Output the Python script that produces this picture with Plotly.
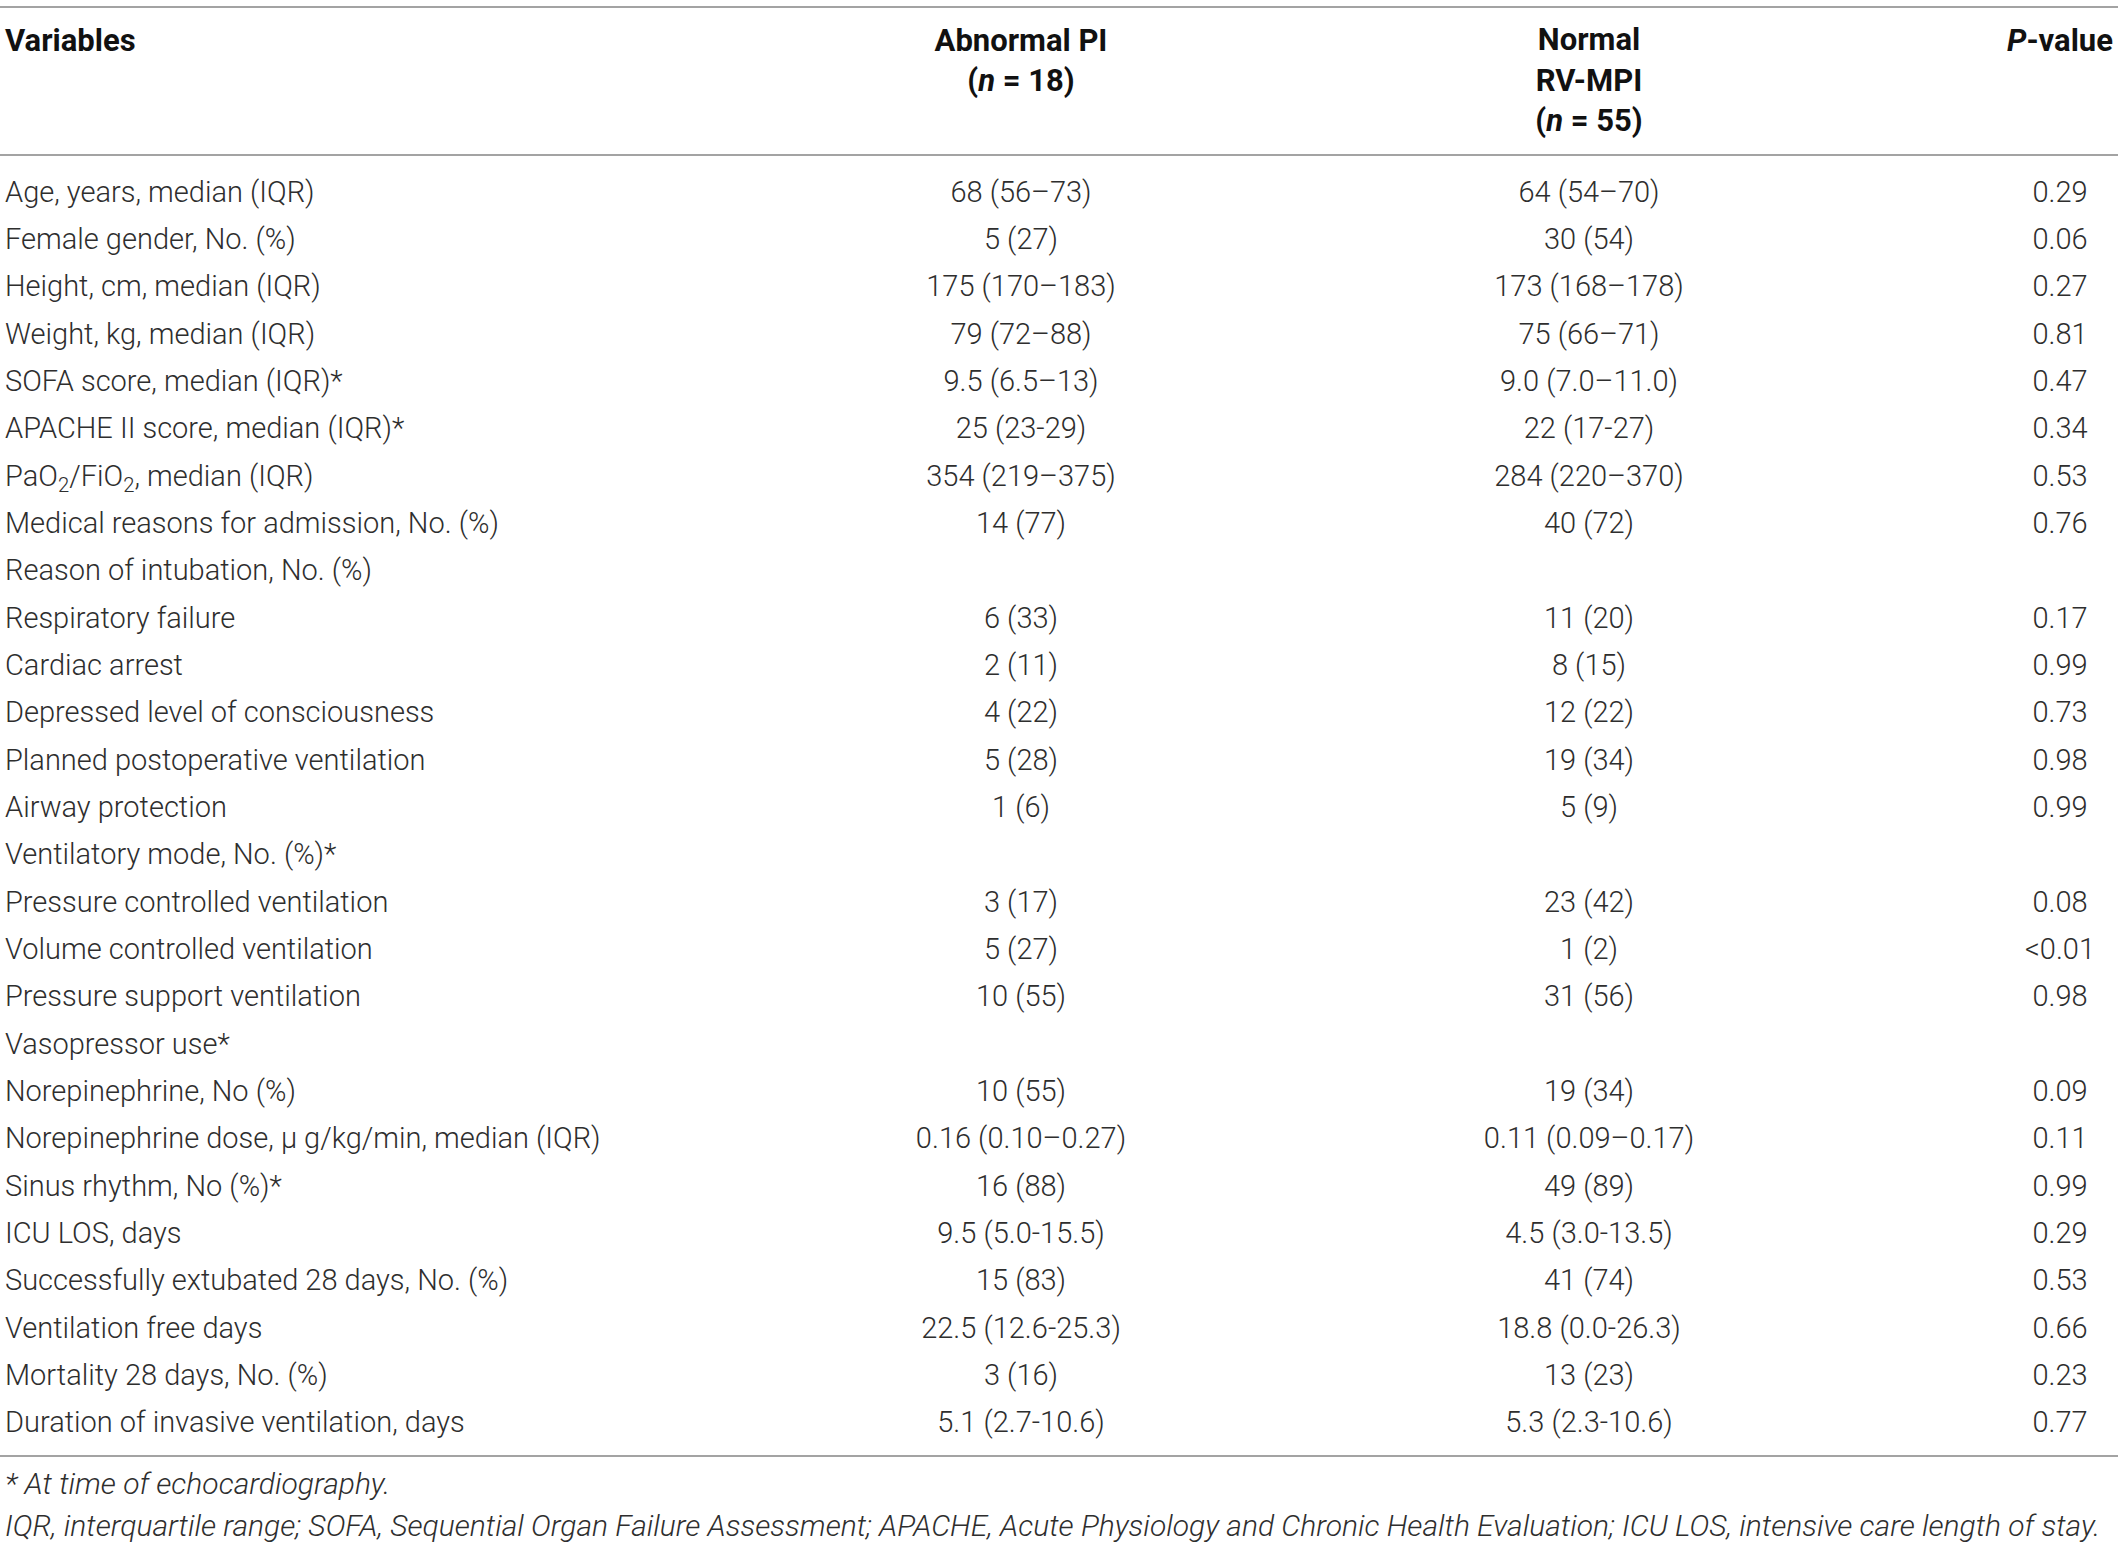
import plotly.graph_objects as go

# table contents
variables = [
    "Age, years, median (IQR)",
    "Female gender, No. (%)",
    "Height, cm, median (IQR)",
    "Weight, kg, median (IQR)",
    "SOFA score, median (IQR)*",
    "APACHE II score, median (IQR)*",
    "PaO<sub>2</sub>/FiO<sub>2</sub>, median (IQR)",
    "Medical reasons for admission, No. (%)",
    "Reason of intubation, No. (%)",
    "Respiratory failure",
    "Cardiac arrest",
    "Depressed level of consciousness",
    "Planned postoperative ventilation",
    "Airway protection",
    "Ventilatory mode, No. (%)*",
    "Pressure controlled ventilation",
    "Volume controlled ventilation",
    "Pressure support ventilation",
    "Vasopressor use*",
    "Norepinephrine, No (%)",
    "Norepinephrine dose, μ g/kg/min, median (IQR)",
    "Sinus rhythm, No (%)*",
    "ICU LOS, days",
    "Successfully extubated 28 days, No. (%)",
    "Ventilation free days",
    "Mortality 28 days, No. (%)",
    "Duration of invasive ventilation, days",
]
abnormal_pi = [
    "68 (56–73)", "5 (27)", "175 (170–183)", "79 (72–88)", "9.5 (6.5–13)",
    "25 (23-29)", "354 (219–375)", "14 (77)", "",
    "6 (33)", "2 (11)", "4 (22)", "5 (28)", "1 (6)", "",
    "3 (17)", "5 (27)", "10 (55)", "",
    "10 (55)", "0.16 (0.10–0.27)", "16 (88)", "9.5 (5.0-15.5)", "15 (83)",
    "22.5 (12.6-25.3)", "3 (16)", "5.1 (2.7-10.6)",
]
normal_rvmpi = [
    "64 (54–70)", "30 (54)", "173 (168–178)", "75 (66–71)", "9.0 (7.0–11.0)",
    "22 (17-27)", "284 (220–370)", "40 (72)", "",
    "11 (20)", "8 (15)", "12 (22)", "19 (34)", "5 (9)", "",
    "23 (42)", "1 (2)", "31 (56)", "",
    "19 (34)", "0.11 (0.09–0.17)", "49 (89)", "4.5 (3.0-13.5)", "41 (74)",
    "18.8 (0.0-26.3)", "13 (23)", "5.3 (2.3-10.6)",
]
p_values = [
    "0.29", "0.06", "0.27", "0.81", "0.47", "0.34", "0.53", "0.76", "",
    "0.17", "0.99", "0.73", "0.98", "0.99", "",
    "0.08", "<0.01", "0.98", "",
    "0.09", "0.11", "0.99", "0.29", "0.53", "0.66", "0.23", "0.77",
]
headers = [
    "<b>Variables</b>",
    "<b>Abnormal PI</b><br><b>(<i>n</i> = 18)</b>",
    "<b>Normal</b><br><b>RV-MPI</b><br><b>(<i>n</i> = 55)</b>",
    "<b><i>P</i>-value</b>",
]
footnotes = [
    "<i>* At time of echocardiography.</i>",
    "<i>IQR, interquartile range; SOFA, Sequential Organ Failure Assessment; "
    "APACHE, Acute Physiology and Chronic Health Evaluation; ICU LOS, "
    "intensive care length of stay.</i>",
]

W, H = 2118, 1543
FONT = "Roboto"
TXT = "#2e2e2e"
RULE = "#a3a3a3"

x_var, x_abn, x_nor, x_p = 5, 1021, 1589, 2060
row0, row_h = 194.5, 47.33
rows_y = [row0 + i * row_h for i in range(len(variables))]

body_font = dict(family=FONT, size=29, color=TXT, weight=300)
head_font = dict(family=FONT, size=31, color="#111")
foot_font = dict(family=FONT, size=30, color=TXT, weight=300)

fig = go.Figure()

# body columns
fig.add_trace(go.Scatter(
    x=[x_var] * len(variables), y=rows_y, text=variables, mode="text",
    textposition="middle right", textfont=body_font,
    hoverinfo="skip", showlegend=False,
))
for xc, col in [(x_abn, abnormal_pi), (x_nor, normal_rvmpi), (x_p, p_values)]:
    ys = [y for y, t in zip(rows_y, col) if t]
    ts = [t for t in col if t]
    fig.add_trace(go.Scatter(
        x=[xc] * len(ts), y=ys, text=ts, mode="text",
        textposition="middle center", textfont=body_font,
        hoverinfo="skip", showlegend=False,
    ))

# header row
hdr_top = 43
hdr_line = 40
fig.add_trace(go.Scatter(
    x=[x_var], y=[hdr_top], text=[headers[0]], mode="text",
    textposition="middle right", textfont=head_font,
    hoverinfo="skip", showlegend=False,
))
for xc, h in zip([x_abn, x_nor, x_p], headers[1:]):
    nlines = h.count("<br>")
    fig.add_trace(go.Scatter(
        x=[xc], y=[hdr_top + nlines * hdr_line / 2], text=[h], mode="text",
        textposition="middle center", textfont=head_font,
        hoverinfo="skip", showlegend=False,
    ))

# footnotes
fig.add_trace(go.Scatter(
    x=[x_var, x_var], y=[1486, 1528], text=footnotes, mode="text",
    textposition="middle right", textfont=foot_font,
    hoverinfo="skip", showlegend=False,
))

# horizontal rules
for yl in [7, 155, 1456]:
    fig.add_shape(type="line", x0=0, x1=W, y0=yl, y1=yl, xref="x", yref="y",
                  line=dict(color=RULE, width=2))

fig.update_layout(
    width=W, height=H,
    margin=dict(l=0, r=0, t=0, b=0),
    paper_bgcolor="white", plot_bgcolor="white",
    xaxis=dict(range=[0, W], visible=False, fixedrange=True),
    yaxis=dict(range=[H, 0], visible=False, fixedrange=True),
)

# drop the default 8px page margin so the figure fills the window
fig.write_html("out.html", config={"displayModeBar": False},
               post_script="document.body.style.margin='0px';")
